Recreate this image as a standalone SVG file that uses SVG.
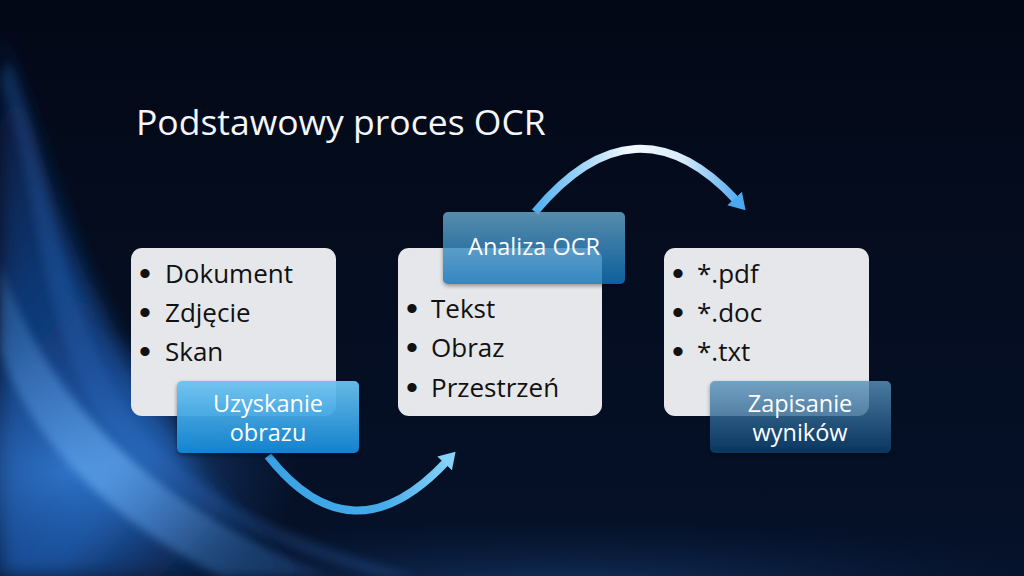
<svg xmlns="http://www.w3.org/2000/svg" width="1024" height="576" viewBox="0 0 1024 576">
<defs>
<style>
.box{fill:#e6e7ea;}
.bul{font-family:"Open Sans","Liberation Sans",sans-serif;font-size:26px;fill:#111111;}
.dot{font-family:"Liberation Sans",sans-serif;font-size:34px;fill:#111111;}
.lbl{font-family:"Open Sans","Liberation Sans",sans-serif;font-size:23.5px;fill:#ffffff;text-anchor:middle;}
.ttl{font-family:"Open Sans","Liberation Sans",sans-serif;font-size:35.5px;fill:#f4f6fa;}
.arr{fill:none;stroke-width:8;stroke-linecap:butt;}
</style>
<linearGradient id="bg" x1="0" y1="0" x2="0" y2="1">
<stop offset="0" stop-color="#030816"/>
<stop offset="1" stop-color="#06122a"/>
</linearGradient>
<radialGradient id="glow1" cx="0.5" cy="0.5" r="0.5">
<stop offset="0" stop-color="#3a86e0" stop-opacity="0.7"/>
<stop offset="1" stop-color="#1a4fa0" stop-opacity="0"/>
</radialGradient>
<radialGradient id="glow2" cx="0.5" cy="0.5" r="0.5">
<stop offset="0" stop-color="#1d4f8f" stop-opacity="0.55"/>
<stop offset="1" stop-color="#0b2550" stop-opacity="0"/>
</radialGradient>
<linearGradient id="sw1" x1="0" y1="0" x2="0.6" y2="1">
<stop offset="0" stop-color="#0c2f6e" stop-opacity="0.35"/>
<stop offset="0.4" stop-color="#144a98" stop-opacity="0.7"/>
<stop offset="0.8" stop-color="#1d5fb8" stop-opacity="0.75"/>
<stop offset="1" stop-color="#0c2a5a" stop-opacity="0.4"/>
</linearGradient>
<linearGradient id="sw2" x1="0" y1="0" x2="1" y2="1">
<stop offset="0" stop-color="#5aa2ee" stop-opacity="0.2"/>
<stop offset="0.5" stop-color="#6eb2f5" stop-opacity="0.6"/>
<stop offset="1" stop-color="#3f7fd0" stop-opacity="0.15"/>
</linearGradient>
<filter id="blur" x="-20%" y="-20%" width="140%" height="140%"><feGaussianBlur stdDeviation="10"/></filter>
<filter id="blur2" x="-20%" y="-20%" width="140%" height="140%"><feGaussianBlur stdDeviation="4"/></filter>
<filter id="shadow" x="-10%" y="-10%" width="130%" height="140%">
<feDropShadow dx="0" dy="2" stdDeviation="2" flood-color="#000000" flood-opacity="0.45"/>
</filter>
<linearGradient id="lg1" x1="0" y1="0" x2="0" y2="1">
<stop offset="0" stop-color="#6cc3f0"/>
<stop offset="1" stop-color="#1488d6"/>
</linearGradient>
<linearGradient id="lg2" x1="0" y1="0" x2="0" y2="1">
<stop offset="0" stop-color="#6aa8cc"/>
<stop offset="1" stop-color="#0f72b8"/>
</linearGradient>
<linearGradient id="lg3" x1="0" y1="0" x2="0" y2="1">
<stop offset="0" stop-color="#5a93bb"/>
<stop offset="1" stop-color="#0a3e6c"/>
</linearGradient>
<linearGradient id="ag1" gradientUnits="userSpaceOnUse" x1="268" y1="456" x2="455" y2="452">
<stop offset="0" stop-color="#3aa2e4"/>
<stop offset="0.6" stop-color="#45abea"/>
<stop offset="1" stop-color="#8bd4f8"/>
</linearGradient>
<linearGradient id="ag2" gradientUnits="userSpaceOnUse" x1="535" y1="212" x2="745" y2="212">
<stop offset="0" stop-color="#4fb0f2"/>
<stop offset="0.45" stop-color="#f4faff"/>
<stop offset="0.7" stop-color="#d8ecfb"/>
<stop offset="1" stop-color="#45a4ee"/>
</linearGradient>
<marker id="ah1" viewBox="0 0 16 20" refX="2" refY="10" markerWidth="16" markerHeight="20" markerUnits="userSpaceOnUse" orient="auto">
<path d="M0,0 L16,10 L0,20 Z" fill="#86d2f8"/>
</marker>
<marker id="ah2" viewBox="0 0 16 20" refX="2" refY="10" markerWidth="16" markerHeight="20" markerUnits="userSpaceOnUse" orient="auto">
<path d="M0,0 L16,10 L0,20 Z" fill="#4aa8ee"/>
</marker>
</defs>

<g id="background">
<rect x="0" y="0" width="1024" height="576" fill="url(#bg)"/>
<ellipse cx="560" cy="590" rx="520" ry="70" fill="url(#glow2)"/>
<path d="M0,30 C60,190 80,370 300,576 L0,576 Z" fill="url(#sw1)" filter="url(#blur)"/>
<ellipse cx="70" cy="470" rx="230" ry="140" fill="url(#glow1)"/>
<path d="M0,260 C40,390 140,500 330,576 L220,576 C110,520 30,440 0,350 Z" fill="url(#sw2)" filter="url(#blur2)"/>
<path d="M10,60 C50,160 55,280 115,390 C165,475 255,532 420,576 L380,576 C240,540 140,485 88,395 C35,295 35,170 0,80 Z" fill="#3b7fd8" opacity="0.2" filter="url(#blur2)"/>
</g>

<text class="ttl" x="136" y="135">Podstawowy proces OCR</text>

<g id="connectors">
<path class="arr" d="M268,456 Q352,562 446,462" stroke="url(#ag1)" marker-end="url(#ah1)"/>
<path class="arr" d="M535,212 Q635,92 736,200" stroke="url(#ag2)" marker-end="url(#ah2)"/>
</g>

<g id="node1">
<rect class="box" x="131" y="248" width="205" height="168" rx="11"/>
<text class="dot" x="139" y="285">•</text><text class="bul" x="165" y="283">Dokument</text>
<text class="dot" x="139" y="324">•</text><text class="bul" x="165" y="322">Zdjęcie</text>
<text class="dot" x="139" y="363">•</text><text class="bul" x="165" y="361">Skan</text>
<rect x="177" y="381" width="182" height="72" rx="5" fill="url(#lg1)" opacity="0.95" filter="url(#shadow)"/>
<text class="lbl" x="268" y="412">Uzyskanie</text>
<text class="lbl" x="268" y="441">obrazu</text>
</g>

<g id="node2">
<rect class="box" x="398" y="248" width="204" height="168" rx="11"/>
<text class="dot" x="406" y="320">•</text><text class="bul" x="431" y="318">Tekst</text>
<text class="dot" x="406" y="359">•</text><text class="bul" x="431" y="357">Obraz</text>
<text class="dot" x="406" y="399">•</text><text class="bul" x="431" y="397">Przestrzeń</text>
<rect x="443" y="212" width="182" height="72" rx="5" fill="url(#lg2)" opacity="0.82" filter="url(#shadow)"/>
<text class="lbl" x="534" y="255">Analiza OCR</text>
</g>

<g id="node3">
<rect class="box" x="664" y="248" width="205" height="168" rx="11"/>
<text class="dot" x="672" y="285">•</text><text class="bul" x="697" y="283">*.pdf</text>
<text class="dot" x="672" y="324">•</text><text class="bul" x="697" y="322">*.doc</text>
<text class="dot" x="672" y="363">•</text><text class="bul" x="697" y="361">*.txt</text>
<rect x="710" y="381" width="181" height="72" rx="5" fill="url(#lg3)" opacity="0.82" filter="url(#shadow)"/>
<text class="lbl" x="800" y="412">Zapisanie</text>
<text class="lbl" x="800" y="441">wyników</text>
</g>
</svg>
